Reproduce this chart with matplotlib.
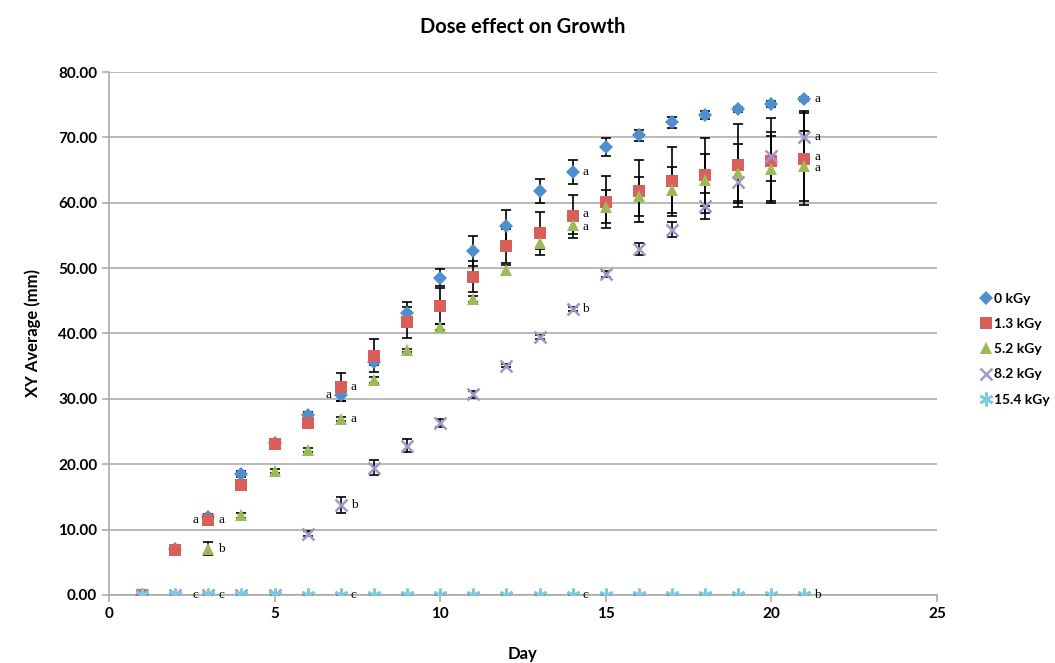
# Effet de la dose sur la croissance : moyenne XY par jour, barres d'erreur + lettres de groupe.
import numpy as np
import matplotlib.pyplot as plt

days = list(range(1, 22))

doses = ["0 kGy", "1.3 kGy", "5.2 kGy", "8.2 kGy", "15.4 kGy"]

growth_0 = [0, 7.1, 11.9, 18.5, 23.3, 27.6, 30.6, 35.7, 43.2, 48.5, 52.6,
            56.4, 61.8, 64.7, 68.5, 70.3, 72.3, 73.4, 74.3, 75.1, 75.8]
growth_13 = [0, 6.9, 11.5, 16.8, 23.1, 26.3, 31.8, 36.6, 41.7, 44.2, 48.7,
             53.4, 55.3, 57.9, 60.1, 61.8, 63.3, 64.2, 65.7, 66.4, 66.7]
growth_52 = [0, 0, 7.1, 12.2, 19.0, 22.2, 26.9, 32.9, 37.4, 41.0, 45.3,
             49.7, 53.8, 56.6, 59.4, 61.0, 62.0, 63.5, 64.5, 65.2, 65.6]
growth_82 = [0, 0, 0, 0, 0, 9.4, 13.8, 19.5, 22.8, 26.3, 30.7,
             35.1, 39.4, 43.8, 49.1, 52.9, 55.9, 59.5, 63.2, 67.1, 70.0]
growth_154 = [0] * 21

err_0 = [0, 0.3, 0.5, 0.5, 0.4, 0.4, 0.9, 0.5, 1.6, 1.3, 2.3,
         2.5, 1.8, 1.8, 1.4, 0.9, 0.8, 0.6, 0.4, 0.4, 0.3]
err_13 = [0, 0.8, 0.5, 0.3, 0.3, 0.4, 2.2, 2.5, 2.4, 2.7, 2.4,
          2.6, 3.3, 3.3, 4.0, 4.7, 5.3, 5.7, 6.4, 6.5, 7.0]
err_52 = [0, 0, 1.0, 0.4, 0.3, 0.3, 0.3, 0.4, 0.3, 0.4, 0.5,
          0.8, 0.8, 1.4, 2.5, 3.0, 3.5, 4.0, 4.5, 5.0, 5.4]
err_82 = [0, 0, 0, 0, 0, 0.4, 1.2, 1.1, 1.0, 0.6, 0.5,
          0.3, 0.3, 0.3, 0.4, 0.9, 1.1, 2.0, 3.0, 3.7, 4.0]
err_154 = [0] * 21

# lettres de groupe : (serie, jour, lettre, cote)
letters = [
    (1, 3, "a", "left"), (1, 3, "a", "right"), (2, 3, "b", "right"),
    (4, 3, "c", "left"), (4, 3, "c", "right"),
    (0, 7, "a", "left"), (1, 7, "a", "right"), (2, 7, "a", "right"),
    (3, 7, "b", "right"), (4, 7, "c", "right"),
    (0, 14, "a", "right"), (1, 14, "a", "right"), (2, 14, "a", "right"),
    (3, 14, "b", "right"), (4, 14, "c", "right"),
    (0, 21, "a", "right"), (3, 21, "a", "right"), (1, 21, "a", "right"),
    (2, 21, "a", "right"), (4, 21, "b", "right"),
]

series = [growth_0, growth_13, growth_52, growth_82, growth_154]
errors = [err_0, err_13, err_52, err_82, err_154]
colors = ["#4F8FD0", "#D9605A", "#9BBB59", "#A596C8", "#7CCAE0"]
markers = ["D", "s", "^", "x", (6, 2, 0)]
msizes = [7.5, 8.5, 8.5, 8.5, 10]

plt.rcParams["font.family"] = ["Lato", "DejaVu Sans"]

fig = plt.figure(figsize=(10.55, 6.63), dpi=100)
ax = fig.add_axes([0.1033, 0.1026, 0.7848, 0.7888])

grid_c = "#A6A6A6"
for i in range(len(series)):
    ax.errorbar(days, series[i], yerr=errors[i], fmt="none", ecolor="black",
                elinewidth=1.2, capsize=3.5, capthick=1.2, zorder=2)
for i in range(len(series)):
    mk = markers[i]
    kw = dict(markeredgewidth=1.8) if mk in ("x",) or isinstance(mk, tuple) else dict(markeredgewidth=0)
    ax.plot(days, series[i], linestyle="none", marker=mk, ms=msizes[i],
            color=colors[i], label=doses[i], zorder=3 + i, **kw)

for s, d, lt, side in letters:
    y = series[s][d - 1]
    off = 7 if side == "right" else -7
    dy = {1: 1.5, 2: -1.5}.get(s, 0) if d in (14, 21) else 0  # 1.3 / 5.2 kGy serres
    ax.annotate(lt, (d, y), xytext=(off, dy), textcoords="offset points",
                ha="left" if side == "right" else "right", va="center",
                family=["Liberation Serif", "DejaVu Serif"], fontsize=9.5, zorder=10)

ax.set_xlim(0, 25)
ax.set_ylim(0, 80)
ax.set_xticks(range(0, 26, 5))
ax.set_yticks(range(0, 81, 10))
ax.set_yticklabels([f"{v:.2f}" for v in range(0, 81, 10)])
ax.yaxis.grid(True, color=grid_c, linewidth=1.1)
ax.set_axisbelow(True)
for sp in ["top", "right"]:
    ax.spines[sp].set_visible(False)
for sp in ["left", "bottom"]:
    ax.spines[sp].set_color(grid_c)
    ax.spines[sp].set_linewidth(1.1)
ax.tick_params(axis="both", direction="out", length=5, color=grid_c, width=1.1,
               labelsize=11)
for lab in ax.get_xticklabels() + ax.get_yticklabels():
    lab.set_fontweight("bold")

ax.set_xlabel("Day", fontsize=12, fontweight="bold", labelpad=18)
ax.set_ylabel("XY Average (mm)", fontsize=12, fontweight="bold", labelpad=12)
ax.set_title("Dose effect on Growth", fontsize=14.5, fontweight="bold", pad=28)

leg = ax.legend(loc="center left", bbox_to_anchor=(1.04, 0.47), frameon=False,
                fontsize=10, handletextpad=0.0, handlelength=1.1,
                labelspacing=0.95, borderaxespad=0.2)
for t in leg.get_texts():
    t.set_fontweight("bold")

fig.savefig("out.png", dpi=100)
